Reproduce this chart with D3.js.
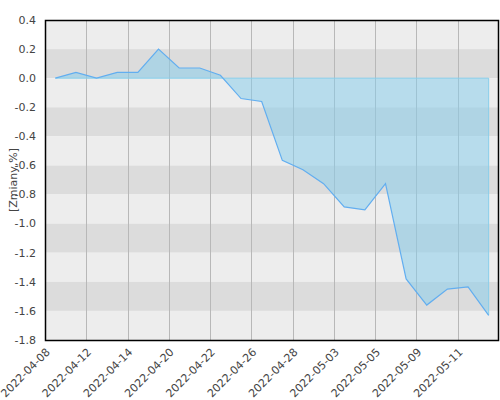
<!DOCTYPE html>
<html>
<head>
<meta charset="utf-8">
<script src="https://cdn.jsdelivr.net/npm/d3@7"></script>
<style>
  body { margin: 0; background: #fff; }
  svg text { font-family: "DejaVu Sans", sans-serif; }
</style>
</head>
<body>
<svg id="chart" width="500" height="400"></svg>
<script>
var dates = ["2022-04-08", "2022-04-11", "2022-04-12", "2022-04-13", "2022-04-14", "2022-04-19",
  "2022-04-20", "2022-04-21", "2022-04-22", "2022-04-25", "2022-04-26", "2022-04-27",
  "2022-04-28", "2022-04-29", "2022-05-03", "2022-05-04", "2022-05-05", "2022-05-06",
  "2022-05-09", "2022-05-10", "2022-05-11", "2022-05-12"];
var values = [0.00, 0.04, 0.00, 0.04, 0.04, 0.20, 0.07, 0.07, 0.02, -0.14, -0.16, -0.565,
  -0.63, -0.725, -0.885, -0.905, -0.725, -1.38, -1.56, -1.45, -1.435, -1.63];
var yTicks = [0.4, 0.2, 0.0, -0.2, -0.4, -0.6, -0.8, -1.0, -1.2, -1.4, -1.6, -1.8];
var yLabel = "[Zmiany,%]";

var margin = { top: 20, right: 1, bottom: 60, left: 45 };
var svg = d3.select("#chart");
var width = 500 - margin.left - margin.right;
var height = 400 - margin.top - margin.bottom;

var x = d3.scaleBand().domain(d3.range(dates.length)).range([0, width]);
var y = d3.scaleLinear().domain([-1.8, 0.4]).range([height, 0]);

var g = svg.append("g").attr("transform", "translate(" + margin.left + "," + margin.top + ")");

// striped background
g.selectAll(".band")
  .data(yTicks.slice(0, -1))
  .enter()
  .append("rect")
  .attr("x", 0)
  .attr("width", width)
  .attr("y", function(d) { return y(d); })
  .attr("height", function(d) { return y(d - 0.2) - y(d); })
  .attr("fill", function(d, i) { return i % 2 === 0 ? "#ededed" : "#dcdcdc"; });

// vertical grid, every second date
var tickIdx = d3.range(0, dates.length, 2);
g.selectAll(".vgrid")
  .data(tickIdx.slice(1))
  .enter()
  .append("line")
  .attr("x1", function(d) { return Math.round(x(d)) + 0.5; })
  .attr("x2", function(d) { return Math.round(x(d)) + 0.5; })
  .attr("y1", 0)
  .attr("y2", height)
  .attr("stroke", "#b8b8b8")
  .attr("stroke-width", 1);

var cx = function(d, i) { return x(i) + x.bandwidth() / 2; };

var area = d3.area()
  .x(cx)
  .y0(y(0))
  .y1(function(d) { return y(d); });

g.append("path")
  .datum(values)
  .attr("d", area)
  .attr("fill", "#87ceeb")
  .attr("fill-opacity", 0.52)
  .attr("stroke", "none");

g.append("line")
  .attr("x1", cx(null, 0))
  .attr("x2", cx(null, values.length - 1))
  .attr("y1", y(0))
  .attr("y2", y(0))
  .attr("stroke", "#87ceeb")
  .attr("stroke-width", 1);

g.append("line")
  .attr("x1", cx(null, values.length - 1))
  .attr("x2", cx(null, values.length - 1))
  .attr("y1", y(0))
  .attr("y2", y(values[values.length - 1]))
  .attr("stroke", "#87ceeb")
  .attr("stroke-width", 1);

g.append("path")
  .datum(values)
  .attr("d", d3.line().x(cx).y(function(d) { return y(d); }))
  .attr("fill", "none")
  .attr("stroke", "#62aef0")
  .attr("stroke-width", 1.2);

// frame
g.append("rect")
  .attr("x", 0.5)
  .attr("y", 0.5)
  .attr("width", width - 1)
  .attr("height", height)
  .attr("fill", "none")
  .attr("stroke", "#000")
  .attr("stroke-width", 1.5);

// y tick labels
g.selectAll(".ylab")
  .data(yTicks)
  .enter()
  .append("text")
  .attr("x", -9)
  .attr("y", function(d) { return y(d); })
  .attr("dy", "0.35em")
  .attr("text-anchor", "end")
  .attr("font-size", 11)
  .attr("fill", "#444")
  .text(function(d) { return d3.format(".1f")(d).replace("−", "-"); });

// x tick labels
g.selectAll(".xlab")
  .data(tickIdx)
  .enter()
  .append("text")
  .attr("transform", function(d) { return "translate(" + (x(d) + 3) + "," + (height + 10) + ") rotate(-45)"; })
  .attr("text-anchor", "end")
  .attr("dy", "0.35em")
  .attr("font-size", 11)
  .attr("fill", "#444")
  .text(function(d) { return dates[d]; });

svg.append("text")
  .attr("transform", "translate(17," + (margin.top + height / 2) + ") rotate(-90)")
  .attr("text-anchor", "middle")
  .attr("font-size", 11)
  .attr("fill", "#444")
  .text(yLabel);
</script>
</body>
</html>
